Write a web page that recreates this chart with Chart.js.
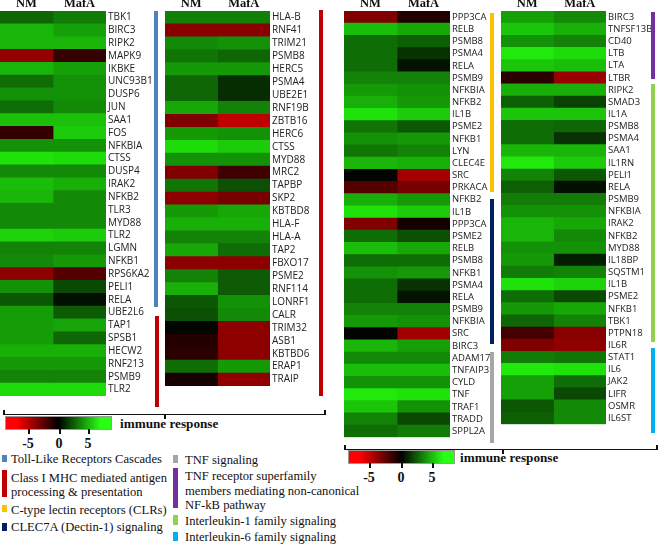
<!DOCTYPE html>
<html>
<head>
<meta charset="utf-8">
<script src="https://cdn.jsdelivr.net/npm/chart.js@4"></script>
<style>
  body { margin: 0; background: #fff; }
  #wrap { position: relative; width: 658px; height: 545px; overflow: hidden; }
  #wrap canvas { position: absolute; top: 0; }
  .bar { position: absolute; }
  .txt { position: absolute; white-space: pre; font-family: 'Liberation Serif', 'Times New Roman', serif;
         font-size: 12.6px; color: #111; line-height: 14px; }
  .bold { font-weight: bold; font-size: 14px; }
  .brace { position: absolute; border-top: 1.5px solid #111; height: 0; }
  .tick { position: absolute; width: 1.5px; background: #111; }
  .cbar { position: absolute; height: 12px; border: 1px solid #999;
          background: linear-gradient(to right, rgb(255,0,0) 0%, rgb(255,0,0) 10%, #000 50%, rgb(40,255,20) 90%, rgb(40,255,20) 100%); }
</style>
</head>
<body>
<div id="wrap">
  <canvas id="p1" width="158" height="404" style="left:0px"></canvas>
  <canvas id="p2" width="153" height="394" style="left:165px"></canvas>
  <canvas id="p3" width="146" height="445" style="left:344px"></canvas>
  <canvas id="p4" width="151" height="432" style="left:501px"></canvas>
</div>
<script>
// columns of every heat map
const columns = ['NM', 'MafA'];

// panel 1 - Toll-like receptors / class I MHC
const p1Genes = ['TBK1', 'BIRC3', 'RIPK2', 'MAPK9', 'IKBKE', 'UNC93B1', 'DUSP6', 'JUN', 'SAA1', 'FOS',
  'NFKBIA', 'CTSS', 'DUSP4', 'IRAK2', 'NFKB2', 'TLR3', 'MYD88', 'TLR2', 'LGMN', 'NFKB1',
  'RPS6KA2', 'PELI1', 'RELA', 'UBE2L6', 'TAP1', 'SPSB1', 'HECW2', 'RNF213', 'PSMB9', 'TLR2'];
const p1NM = [2.8, 5.0, 5.0, -3.5, 5.0, 3.0, 4.0, 3.0, 5.3, -1.2,
  4.0, 6.2, 3.8, 5.2, 5.0, 3.8, 3.8, 5.8, 3.6, 3.8,
  -3.3, 4.0, 2.4, 4.3, 4.3, 4.3, 4.8, 4.2, 3.6, 6.0];
const p1MafA = [3.4, 4.4, 5.0, -1.3, 4.4, 4.0, 4.0, 3.8, 5.3, 5.6,
  4.0, 6.0, 3.8, 4.8, 3.8, 3.8, 3.8, 5.6, 3.6, 4.2,
  -2.0, 2.0, 0.4, 2.5, 4.5, 2.8, 4.8, 4.2, 3.6, 6.0];

// panel 2 - class I MHC
const p2Genes = ['HLA-B', 'RNF41', 'TRIM21', 'PSMB8', 'HERC5', 'PSMA4', 'UBE2E1', 'RNF19B', 'ZBTB16', 'HERC6',
  'CTSS', 'MYD88', 'MRC2', 'TAPBP', 'SKP2', 'KBTBD8', 'HLA-F', 'HLA-A', 'TAP2', 'FBXO17',
  'PSME2', 'RNF114', 'LONRF1', 'CALR', 'TRIM32', 'ASB1', 'KBTBD6', 'ERAP1', 'TRAIP'];
const p2NM = [3.5, -3.2, 3.8, 3.2, 4.2, 2.8, 2.8, 4.6, -3.0, 4.2,
  6.0, 4.0, -3.0, 3.2, -3.3, 4.2, 4.8, 3.6, 4.6, -3.3,
  3.6, 4.8, 2.4, 2.2, 0.2, -0.8, -1.0, 3.0, -0.6];
const p2MafA = [3.5, -3.2, 4.0, 2.8, 4.2, 1.2, 1.2, 3.6, -4.5, 4.0,
  5.6, 4.0, -1.5, 2.2, -2.8, 4.6, 4.8, 3.6, 3.0, -3.3,
  2.5, 2.5, 4.0, 3.8, -3.3, -3.3, -3.3, 4.2, -3.4];

// panel 3 - CLRs, Dectin-1, TNF signaling
const p3Genes = ['PPP3CA', 'RELB', 'PSMB8', 'PSMA4', 'RELA', 'PSMB9', 'NFKBIA', 'NFKB2', 'IL1B', 'PSME2',
  'NFKB1', 'LYN', 'CLEC4E', 'SRC', 'PRKACA', 'NFKB2', 'IL1B', 'PPP3CA', 'PSME2', 'RELB',
  'PSMB8', 'NFKB1', 'PSMA4', 'RELA', 'PSMB9', 'NFKBIA', 'SRC', 'BIRC3', 'ADAM17', 'TNFAIP3',
  'CYLD', 'TNF', 'TRAF1', 'TRADD', 'SPPL2A'];
const p3NM = [-3.0, 5.2, 3.0, 3.0, 3.0, 3.6, 4.2, 4.8, 6.2, 3.2,
  4.0, 3.2, 5.0, 0.1, -2.0, 4.8, 6.2, -3.0, 3.0, 5.2,
  3.0, 4.0, 3.0, 3.0, 3.6, 4.2, 0.1, 5.0, 3.8, 5.2,
  4.0, 6.4, 5.4, 3.6, 3.0];
const p3MafA = [-0.8, 4.6, 2.6, 1.4, 0.5, 3.6, 4.0, 4.2, 5.6, 2.4,
  4.2, 3.6, 4.8, -3.8, -2.8, 4.2, 5.6, -0.5, 2.2, 4.6,
  3.0, 4.2, 1.4, 0.5, 3.6, 4.0, -3.8, 4.4, 3.8, 5.2,
  4.0, 6.2, 4.0, 2.0, 3.4];

// panel 4 - TNFR non-canonical NF-kB, IL-1 and IL-6 families
const p4Genes = ['BIRC3', 'TNFSF13B', 'CD40', 'LTB', 'LTA', 'LTBR', 'RIPK2', 'SMAD3', 'IL1A', 'PSMB8',
  'PSMA4', 'SAA1', 'IL1RN', 'PELI1', 'RELA', 'PSMB9', 'NFKBIA', 'IRAK2', 'NFKB2', 'MYD88',
  'IL18BP', 'SQSTM1', 'IL1B', 'PSME2', 'NFKB1', 'TBK1', 'PTPN18', 'IL6R', 'STAT1', 'IL6',
  'JAK2', 'LIFR', 'OSMR', 'IL6ST'];
const p4NM = [4.4, 5.4, 4.0, 6.4, 5.4, -1.0, 4.8, 2.6, 5.4, 3.0,
  3.0, 5.0, 6.4, 3.6, 2.6, 3.4, 4.0, 5.0, 5.0, 4.0,
  4.2, 3.4, 6.2, 3.0, 4.2, 2.8, -1.6, -3.0, 3.4, 6.4,
  4.4, 4.4, 2.4, 2.6];
const p4MafA = [3.8, 4.8, 3.6, 6.0, 5.2, -3.6, 4.8, 1.8, 5.4, 2.8,
  1.4, 5.0, 5.6, 2.4, 0.4, 3.4, 4.0, 4.6, 3.8, 4.0,
  0.8, 3.6, 5.8, 2.0, 4.6, 3.6, -3.2, -3.4, 3.2, 6.2,
  3.0, 2.0, 3.8, 3.8];

// colour scale: red (down) - black (0) - green (up)
function cellColor(v) {
    if (v >= 0) {
        const t = Math.min(1, v / 7);
        return `rgb(${Math.round(35 * t)},${Math.round(255 * t)},${Math.round(12 * t)})`;
    }
    const t = Math.min(1, -v / 6);
    return `rgb(${Math.round(255 * t)},0,0)`;
}

function makePanel(id, genes, nm, mafa, labelWidth, fontSize) {
    const ctx = document.getElementById(id).getContext('2d');
    const cell = genes.map(() => 1); // every cell is one column wide
    new Chart(ctx, {
        type: 'bar',
        data: {
            labels: genes,
            datasets: [
                { label: columns[0], data: cell, backgroundColor: nm.map(cellColor) },
                { label: columns[1], data: cell, backgroundColor: mafa.map(cellColor) }
            ]
        },
        options: {
            indexAxis: 'y',
            responsive: false,
            animation: false,
            layout: { padding: 0 },
            datasets: { bar: { barPercentage: 1, categoryPercentage: 1, borderWidth: 0, inflateAmount: 0.4 } },
            plugins: { legend: { display: false }, tooltip: { enabled: false } },
            scales: {
                x: {
                    stacked: true,
                    position: 'top',
                    min: 0,
                    max: 2,
                    grid: { display: false, drawTicks: false },
                    border: { display: false },
                    afterBuildTicks: scale => { scale.ticks = [{ value: 0.5 }, { value: 1.5 }]; },
                    afterFit: scale => { scale.height = 11; },
                    ticks: {
                        callback: v => (v < 1 ? columns[0] : columns[1]),
                        padding: 0,
                        maxRotation: 0,
                        color: '#111',
                        font: { family: 'Liberation Serif', size: 12.5, weight: 'bold' }
                    }
                },
                y: {
                    stacked: true,
                    position: 'right',
                    grid: { display: false, drawTicks: false },
                    border: { display: false },
                    afterFit: scale => { scale.width = labelWidth; },
                    ticks: {
                        autoSkip: false,
                        padding: 2,
                        color: '#222',
                        font: { family: 'Open Sans', size: fontSize }
                    }
                }
            }
        }
    });
}

makePanel('p1', p1Genes, p1NM, p1MafA, 52, 10);
makePanel('p2', p2Genes, p2NM, p2MafA, 48, 10);
makePanel('p3', p3Genes, p3NM, p3MafA, 40, 9.5);
makePanel('p4', p4Genes, p4NM, p4MafA, 46, 9.5);

// pathway side bars, braces, colour keys and legend
const wrap = document.getElementById('wrap');
function add(cls, style, text) {
    const el = document.createElement('div');
    el.className = cls;
    el.style.cssText = style;
    if (text) el.textContent = text;
    wrap.appendChild(el);
}
const pathwayBars = [
    [154, 11, 307, '#4f81bd'], [155, 316, 407, '#c00000'], [319, 10, 396, '#c00000'],
    [490, 13, 192, '#ffc000'], [490, 199, 344, '#002060'], [490, 352, 443, '#a6a6a6'],
    [651, 12, 79, '#7030a0'], [651, 84, 342, '#92d050'], [651, 348, 433, '#00b0f0']
];
pathwayBars.forEach(([x, y0, y1, c]) =>
    add('bar', `left:${x}px;top:${y0}px;width:4px;height:${y1 - y0}px;background:${c}`));

function brace(x0, x1, y, mid) {
    add('brace', `left:${x0}px;top:${y}px;width:${x1 - x0}px`);
    add('tick', `left:${x0}px;top:${y - 4}px;height:5px`);
    add('tick', `left:${x1 - 1}px;top:${y - 4}px;height:5px`);
    add('tick', `left:${mid}px;top:${y}px;height:5px`);
}
brace(3, 325, 414, 164);
brace(344, 657, 449, 502);

function colorKey(x, y, ticks) {
    add('cbar', `left:${x}px;top:${y}px;width:105px`);
    ['-5', '0', '5'].forEach((t, i) => {
        add('tick', `left:${ticks[i]}px;top:${y + 13}px;height:5px`);
        add('txt bold', `left:${ticks[i] - 10}px;top:${y + 21}px;width:20px;text-align:center`, t);
    });
}
colorKey(5, 416, [28, 59, 88]);
colorKey(348, 450, [369, 401, 432]);
add('txt bold', 'left:120px;top:417px;font-size:13.2px', 'immune response');
add('txt bold', 'left:460px;top:451px;font-size:13.2px', 'immune response');

const legendLeft = [
    [455, 462, '#4f81bd', ['Toll-Like Receptors Cascades'], 452],
    [470, 497, '#c00000', ['Class I MHC mediated antigen', 'processing & presentation'], 471],
    [505, 512, '#ffc000', ['C-type lectin receptors (CLRs)'], 503],
    [523, 531, '#002060', ['CLEC7A (Dectin-1) signaling'], 520]
];
const legendRight = [
    [455, 463, '#a6a6a6', ['TNF signaling'], 453],
    [468, 508, '#7030a0', ['TNF receptor superfamily', 'members mediating non-canonical', 'NF-kB pathway'], 469],
    [515, 525, '#92d050', ['Interleukin-1 family signaling'], 514],
    [532, 541, '#00b0f0', ['Interleukin-6 family signaling'], 530]
];
legendLeft.forEach(([y0, y1, c, lines, ty]) => {
    add('bar', `left:2px;top:${y0}px;width:5px;height:${y1 - y0}px;background:${c}`);
    add('txt', `left:11px;top:${ty}px;line-height:14px`, lines.join('\n'));
});
legendRight.forEach(([y0, y1, c, lines, ty]) => {
    add('bar', `left:173px;top:${y0}px;width:5px;height:${y1 - y0}px;background:${c}`);
    add('txt', `left:185px;top:${ty}px;line-height:14.5px`, lines.join('\n'));
});
</script>
</body>
</html>
